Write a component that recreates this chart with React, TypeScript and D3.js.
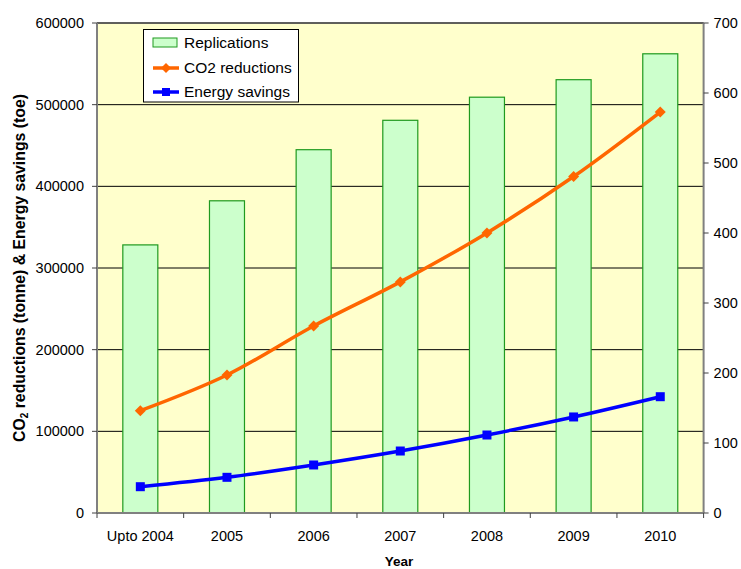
import React from "react";
import * as d3 from "d3";

const categories = ["Upto 2004", "2005", "2006", "2007", "2008", "2009", "2010"];
const replications = [383, 446, 519, 561, 594, 619, 656];
const co2Reductions = [125300, 169000, 229000, 283000, 343000, 412000, 491000];
const energySavings = [32200, 43700, 58800, 75900, 95500, 117600, 142400];
const leftTicks = [0, 100000, 200000, 300000, 400000, 500000, 600000];
const rightTicks = [0, 100, 200, 300, 400, 500, 600, 700];

const W = 741, H = 569;
const L = 97, R = 703.6, T = 23, B = 513;
const FONT = "'Liberation Sans', Arial, sans-serif";

export default function App() {
  const x = d3.scaleBand<string>().domain(categories).range([L, R]);
  const yL = d3.scaleLinear().domain([0, 600000]).range([B, T]);
  const yR = d3.scaleLinear().domain([0, 700]).range([B, T]);
  const bw = 35;
  const cx = (c: string) => (x(c) as number) + x.bandwidth() / 2;

  const line = d3
    .line<number>()
    .x((_, i) => cx(categories[i]))
    .y((d) => yL(d))
    .curve(d3.curveCatmullRom.alpha(0.5));

  return (
    <svg width={W} height={H} style={{ position: "absolute", left: 0, top: 0 }} fontFamily={FONT}>
      <rect x={0} y={0} width={W} height={H} fill="#fff" />
      <rect x={L} y={T} width={R - L} height={B - T} fill="#FFFFCC" />
      {leftTicks.slice(1).map((t) => (
        <line key={t} x1={L} x2={R} y1={yL(t)} y2={yL(t)} stroke="#000" strokeWidth={1} />
      ))}
      <line x1={L} x2={R} y1={T} y2={T} stroke="#555" strokeWidth={1.5} />
      {categories.map((c, i) => (
        <rect
          key={c}
          x={cx(c) - bw / 2}
          y={yR(replications[i])}
          width={bw}
          height={B - yR(replications[i])}
          fill="#CCFFCC"
          stroke="#1F9A1F"
          strokeWidth={1.2}
        />
      ))}
      <path d={line(co2Reductions) || ""} fill="none" stroke="#FF6600" strokeWidth={3.5} />
      {co2Reductions.map((v, i) => {
        const px = cx(categories[i]), py = yL(v);
        return (
          <path
            key={i}
            d={`M${px},${py - 5.5}L${px + 5.5},${py}L${px},${py + 5.5}L${px - 5.5},${py}Z`}
            fill="#FF6600"
          />
        );
      })}
      <path d={line(energySavings) || ""} fill="none" stroke="#0000FF" strokeWidth={3.5} />
      {energySavings.map((v, i) => {
        const px = cx(categories[i]), py = yL(v);
        return <rect key={i} x={px - 4.5} y={py - 4.5} width={9} height={9} fill="#0000FF" />;
      })}
      {/* axes */}
      <line x1={L} x2={L} y1={T} y2={B} stroke="#808080" strokeWidth={2} />
      <line x1={R} x2={R} y1={T} y2={B} stroke="#808080" strokeWidth={2} />
      <line x1={L} x2={R} y1={B} y2={B} stroke="#808080" strokeWidth={2} />
      {leftTicks.map((t) => (
        <g key={t}>
          <line x1={L - 5} x2={L} y1={yL(t)} y2={yL(t)} stroke="#404040" strokeWidth={1} />
          <text x={L - 13} y={yL(t)} dy="0.35em" textAnchor="end" fontSize={14.5} fill="#000">
            {t}
          </text>
        </g>
      ))}
      {rightTicks.map((t) => (
        <g key={t}>
          <line x1={R} x2={R + 5} y1={yR(t)} y2={yR(t)} stroke="#404040" strokeWidth={1} />
          <text x={R + 10} y={yR(t)} dy="0.35em" textAnchor="start" fontSize={14.5} fill="#000">
            {t}
          </text>
        </g>
      ))}
      {categories.concat(["end"]).map((c, i) => {
        const px = L + i * x.bandwidth();
        return <line key={"t" + i} x1={px} x2={px} y1={B} y2={B + 5} stroke="#404040" strokeWidth={1} />;
      })}
      {categories.map((c) => (
        <text key={c} x={cx(c)} y={B + 28} textAnchor="middle" fontSize={14.5} fill="#000">
          {c}
        </text>
      ))}
      <text x={399} y={566} textAnchor="middle" fontSize={13.5} fontWeight="bold">
        Year
      </text>
      <text
        transform={`translate(25,${268}) rotate(-90)`}
        textAnchor="middle"
        fontSize={15.8}
        fontWeight="bold"
      >
        CO<tspan fontSize={10} dy={3}>2</tspan>
        <tspan dy={-3}> reductions (tonne) &amp; Energy savings (toe)</tspan>
      </text>
      {/* legend */}
      <g>
        <rect x={143.5} y={29.5} width={155} height={72.5} fill="#fff" stroke="#000" strokeWidth={1} />
        <rect x={153} y={38} width={24} height={9} fill="#CCFFCC" stroke="#1F9A1F" strokeWidth={1} />
        <text x={184} y={43} dy="0.35em" fontSize={15.5}>Replications</text>
        <line x1={153} x2={179} y1={68} y2={68} stroke="#FF6600" strokeWidth={3.5} />
        <path d="M166,63L171,68L166,73L161,68Z" fill="#FF6600" />
        <text x={184} y={68} dy="0.35em" fontSize={15.5}>CO2 reductions</text>
        <line x1={153} x2={179} y1={92} y2={92} stroke="#0000FF" strokeWidth={3.5} />
        <rect x={162} y={88} width={8} height={8} fill="#0000FF" />
        <text x={184} y={92} dy="0.35em" fontSize={15.5}>Energy savings</text>
      </g>
    </svg>
  );
}
